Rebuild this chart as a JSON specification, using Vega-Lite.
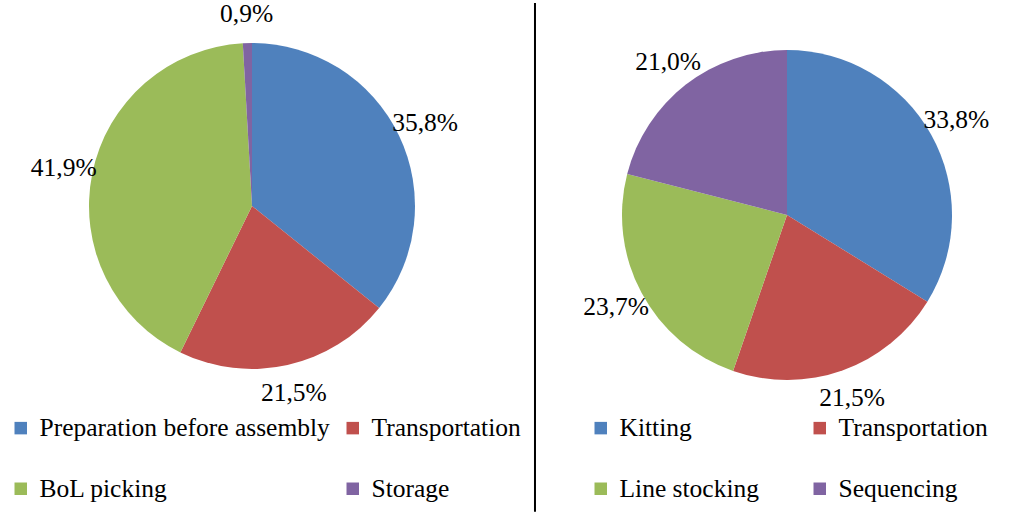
{
  "$schema": "https://vega.github.io/schema/vega-lite/v6.json",
  "padding": {"left": 5, "top": 0, "right": 5, "bottom": 0},
  "bounds": "flush",
  "spacing": 66,
  "config": {
    "view": {"stroke": null},
    "font": "Liberation Serif",
    "legend": {
      "labelFont": "Liberation Serif",
      "labelFontSize": 25.5,
      "labelColor": "#000000",
      "symbolType": "square",
      "symbolSize": 156,
      "symbolStrokeWidth": 0,
      "labelOffset": 6,
      "rowPadding": 34,
      "labelLimit": 400
    }
  },
  "hconcat": [
    {
      "width": 494,
      "height": 412,
      "data": {
        "values": [
          {"category": "Preparation before assembly", "share": 35.8, "label": "35,8%", "i": 1},
          {"category": "Transportation", "share": 21.5, "label": "21,5%", "i": 2},
          {"category": "BoL picking", "share": 41.9, "label": "41,9%", "i": 3},
          {"category": "Storage", "share": 0.9, "label": "0,9%", "i": 4}
        ]
      },
      "encoding": {
        "theta": {"field": "share", "type": "quantitative", "stack": true},
        "order": {"field": "i", "type": "quantitative"}
      },
      "layer": [
        {
          "mark": {"type": "arc", "outerRadius": 163},
          "encoding": {
            "color": {
              "field": "category",
              "type": "nominal",
              "scale": {
                "domain": ["Preparation before assembly", "Transportation", "BoL picking", "Storage"],
                "range": ["#4F81BD", "#C0504D", "#9BBB59", "#8064A2"]
              },
              "legend": {
                "title": null,
                "orient": "none",
                "legendX": 3,
                "legendY": 415,
                "direction": "horizontal",
                "columns": 2,
                "columnPadding": 10
              }
            }
          }
        },
        {
          "mark": {"type": "text", "radius": 192, "fontSize": 25.5, "font": "Liberation Serif", "color": "#000000", "align": "center", "baseline": "middle"},
          "encoding": {
            "text": {"field": "label", "type": "nominal"}
          }
        }
      ]
    },
    {
      "width": 444,
      "height": 430,
      "data": {
        "values": [
          {"category": "Kitting", "share": 33.8, "label": "33,8%", "i": 1},
          {"category": "Transportation", "share": 21.5, "label": "21,5%", "i": 2},
          {"category": "Line stocking", "share": 23.7, "label": "23,7%", "i": 3},
          {"category": "Sequencing", "share": 21.0, "label": "21,0%", "i": 4}
        ]
      },
      "layer": [
        {
          "mark": {"type": "arc", "outerRadius": 165},
          "encoding": {
            "theta": {"field": "share", "type": "quantitative", "stack": true},
            "order": {"field": "i", "type": "quantitative"},
            "color": {
              "field": "category",
              "type": "nominal",
              "scale": {
                "domain": ["Kitting", "Transportation", "Line stocking", "Sequencing"],
                "range": ["#4F81BD", "#C0504D", "#9BBB59", "#8064A2"]
              },
              "legend": {
                "title": null,
                "orient": "none",
                "legendX": 23,
                "legendY": 415,
                "direction": "horizontal",
                "columns": 2,
                "columnPadding": 47
              }
            }
          }
        },
        {
          "mark": {"type": "text", "radius": 194, "fontSize": 25.5, "font": "Liberation Serif", "color": "#000000", "align": "center", "baseline": "middle"},
          "encoding": {
            "theta": {"field": "share", "type": "quantitative", "stack": true},
            "order": {"field": "i", "type": "quantitative"},
            "text": {"field": "label", "type": "nominal"}
          }
        },
        {
          "data": {"values": [{"divider": "line"}]},
          "mark": {"type": "rule", "color": "#000000", "strokeWidth": 2},
          "encoding": {
            "x": {"datum": -0.0676, "type": "quantitative", "scale": {"domain": [0, 1]}, "axis": null},
            "y": {"datum": 0.993, "type": "quantitative", "scale": {"domain": [0, 1]}, "axis": null},
            "y2": {"datum": -0.19}
          }
        }
      ],
      "resolve": {"scale": {"theta": "shared"}}
    }
  ],
  "resolve": {"scale": {"color": "independent", "theta": "independent"}, "legend": {"color": "independent"}}
}
